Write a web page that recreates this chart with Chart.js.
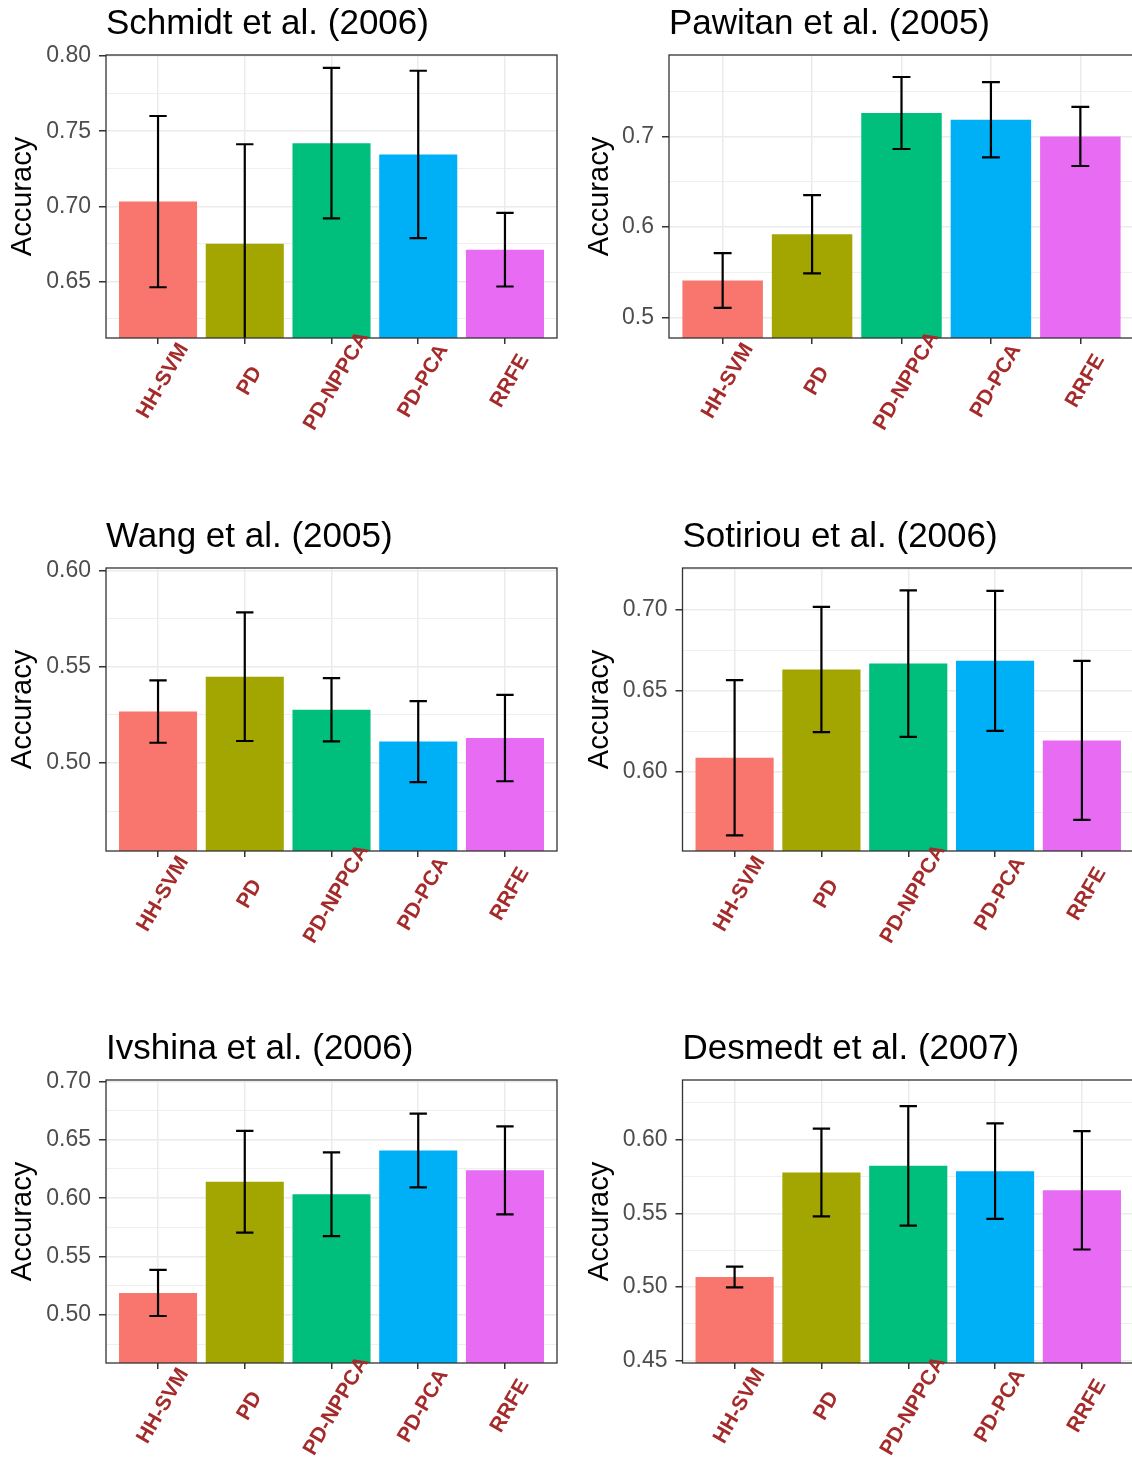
<!DOCTYPE html>
<html lang="en">
<head>
  <meta charset="UTF-8">
  <title>Accuracy by method</title>
  <script src="https://cdn.jsdelivr.net/npm/chart.js"></script>
  <style>
    html, body {
      margin: 0;
      padding: 0;
      background: #fff;
      overflow: hidden;
      width: 1132px;
      height: 1458px;
    }
    .panel {
      position: absolute;
      width: 566px;
      height: 450px;
    }
  </style>
</head>
<body>
  <div class="panel" style="left:0;top:0"><canvas id="c1" width="566" height="450"></canvas></div>
  <div class="panel" style="left:577px;top:0"><canvas id="c2" width="566" height="450"></canvas></div>
  <div class="panel" style="left:0;top:513px"><canvas id="c3" width="566" height="450"></canvas></div>
  <div class="panel" style="left:577px;top:513px"><canvas id="c4" width="566" height="450"></canvas></div>
  <div class="panel" style="left:0;top:1025px"><canvas id="c5" width="566" height="450"></canvas></div>
  <div class="panel" style="left:577px;top:1025px"><canvas id="c6" width="566" height="450"></canvas></div>

  <script>
    // methods and fill colours (ggplot hue palette)
    const categories = ['HH-SVM', 'PD', 'PD-NPPCA', 'PD-PCA', 'RRFE'];
    const barColors = ['#F8766D', '#A3A500', '#00BF7D', '#00B0F6', '#E76BF3'];

    // mean accuracy and error bar half-width
    const schmidtMean = [0.7031, 0.6751, 0.7420, 0.7345, 0.6711];
    const schmidtErr  = [0.0570, 0.0662, 0.0501, 0.0557, 0.0245];
    const schmidtTicks = ['0.65', '0.70', '0.75', '0.80'];

    const pawitanMean = [0.5407, 0.5919, 0.7259, 0.7185, 0.7000];
    const pawitanErr  = [0.0303, 0.0433, 0.0398, 0.0416, 0.0327];
    const pawitanTicks = ['0.5', '0.6', '0.7'];

    const wangMean = [0.5267, 0.5448, 0.5276, 0.5111, 0.5129];
    const wangErr  = [0.0162, 0.0334, 0.0164, 0.0210, 0.0224];
    const wangTicks = ['0.50', '0.55', '0.60'];

    const sotiriouMean = [0.6087, 0.6632, 0.6669, 0.6686, 0.6194];
    const sotiriouErr  = [0.0480, 0.0387, 0.0453, 0.0433, 0.0492];
    const sotiriouTicks = ['0.60', '0.65', '0.70'];

    const ivshinaMean = [0.5189, 0.6140, 0.6034, 0.6408, 0.6238];
    const ivshinaErr  = [0.0197, 0.0435, 0.0358, 0.0316, 0.0376];
    const ivshinaTicks = ['0.50', '0.55', '0.60', '0.65', '0.70'];

    const desmedtMean = [0.5068, 0.5778, 0.5823, 0.5787, 0.5657];
    const desmedtErr  = [0.0070, 0.0298, 0.0406, 0.0324, 0.0402];
    const desmedtTicks = ['0.45', '0.50', '0.55', '0.60'];

    const panels = [
      { id: 'c1', title: 'Schmidt et al. (2006)',  mean: schmidtMean,  err: schmidtErr,  ticks: schmidtTicks,  min: 0.6123, max: 0.8007, yw: 106 },
      { id: 'c2', title: 'Pawitan et al. (2005)',  mean: pawitanMean,  err: pawitanErr,  ticks: pawitanTicks,  min: 0.4772, max: 0.7900, yw: 92 },
      { id: 'c3', title: 'Wang et al. (2005)',     mean: wangMean,     err: wangErr,     ticks: wangTicks,     min: 0.4543, max: 0.6012, yw: 106 },
      { id: 'c4', title: 'Sotiriou et al. (2006)', mean: sotiriouMean, err: sotiriouErr, ticks: sotiriouTicks, min: 0.5510, max: 0.7260, yw: 105.5 },
      { id: 'c5', title: 'Ivshina et al. (2006)',  mean: ivshinaMean,  err: ivshinaErr,  ticks: ivshinaTicks,  min: 0.4590, max: 0.7011, yw: 106 },
      { id: 'c6', title: 'Desmedt et al. (2007)',  mean: desmedtMean,  err: desmedtErr,  ticks: desmedtTicks,  min: 0.4484, max: 0.6406, yw: 105.5 }
    ];

    Chart.defaults.font.family = "'Liberation Sans', Arial, sans-serif";

    // error bars with caps, width 0.2 of a category
    const errorBars = {
      id: 'errorBars',
      afterDatasetsDraw(chart, args, opts) {
        const { ctx, chartArea: a } = chart;
        const xs = chart.scales.x, ys = chart.scales.y;
        const half = xs.getPixelForValue(1.1) - xs.getPixelForValue(1);
        ctx.save();
        ctx.beginPath();
        ctx.rect(a.left, a.top, a.right - a.left, a.bottom - a.top);
        ctx.clip();
        ctx.strokeStyle = '#000';
        ctx.lineWidth = 2.2;
        opts.mean.forEach((m, i) => {
          const x = xs.getPixelForValue(i + 1);
          const yHi = ys.getPixelForValue(m + opts.err[i]);
          const yLo = ys.getPixelForValue(m - opts.err[i]);
          ctx.beginPath();
          ctx.moveTo(x, yHi); ctx.lineTo(x, yLo);
          ctx.moveTo(x - half, yHi); ctx.lineTo(x + half, yHi);
          ctx.moveTo(x - half, yLo); ctx.lineTo(x + half, yLo);
          ctx.stroke();
        });
        ctx.restore();
      }
    };

    // panel border and rotated method labels
    const panelFrame = {
      id: 'panelFrame',
      afterDraw(chart) {
        const { ctx, chartArea: a } = chart;
        const xs = chart.scales.x;
        ctx.save();
        ctx.strokeStyle = '#333';
        ctx.lineWidth = 1.3;
        ctx.strokeRect(a.left, a.top, a.right - a.left, a.bottom - a.top);
        ctx.fillStyle = '#a52a2a';
        ctx.font = "bold 21px 'Liberation Sans', Arial, sans-serif";
        ctx.textAlign = 'center';
        ctx.textBaseline = 'middle';
        categories.forEach((c, i) => {
          ctx.save();
          ctx.translate(xs.getPixelForValue(i + 1) + 5, a.bottom + 43);
          ctx.rotate(-Math.PI / 3);
          ctx.fillText(c, 0, 0);
          ctx.restore();
        });
        ctx.restore();
      }
    };

    panels.forEach(p => {
      const major = p.ticks.map(Number);
      const step = major[1] - major[0];
      const gridVals = [];
      major.forEach(v => gridVals.push(v));
      [major[0] - step / 2].concat(major.map(v => v + step / 2)).forEach(v => gridVals.push(v));
      const yVals = gridVals.filter(v => v >= p.min - 1e-9 && v <= p.max + 1e-9).sort((a, b) => a - b);
      const labelOf = v => {
        const k = major.findIndex(t => Math.abs(t - v) < 1e-6);
        return k >= 0 ? p.ticks[k] : '';
      };
      const isMajor = v => labelOf(v) !== '';

      new Chart(document.getElementById(p.id), {
        type: 'bar',
        data: {
          datasets: [{
            data: p.mean.map((v, i) => ({ x: i + 1, y: v })),
            backgroundColor: barColors,
            borderWidth: 0,
            barPercentage: 0.9,
            categoryPercentage: 1.0
          }]
        },
        options: {
          responsive: false,
          animation: false,
          devicePixelRatio: 1,
          layout: { padding: { left: 0, right: 9, top: 0, bottom: 0 } },
          plugins: {
            legend: { display: false },
            tooltip: { enabled: false },
            title: {
              display: true,
              text: p.title,
              align: 'start',
              fullSize: false,
              color: '#000',
              font: { size: 35, weight: 'normal' },
              padding: { top: 3, bottom: 10 }
            },
            errorBars: { mean: p.mean, err: p.err }
          },
          scales: {
            x: {
              type: 'linear',
              min: 0.4,
              max: 5.6,
              offset: false,
              afterBuildTicks: s => { s.ticks = categories.map((c, i) => ({ value: i + 1 })); },
              afterFit: s => { s.height = 112; },
              ticks: { display: false },
              border: { display: false },
              grid: {
                offset: false,
                color: '#ebebeb',
                lineWidth: 1.5,
                tickColor: '#333',
                tickLength: 6,
                tickWidth: 1.5
              }
            },
            y: {
              type: 'linear',
              min: p.min,
              max: p.max,
              afterBuildTicks: s => { s.ticks = yVals.map(v => ({ value: v })); },
              afterFit: s => { s.width = p.yw; },
              border: { display: false },
              title: {
                display: true,
                text: 'Accuracy',
                color: '#000',
                font: { size: 29 },
                padding: { top: 6, bottom: 0 }
              },
              ticks: {
                color: '#4d4d4d',
                font: { size: 23 },
                padding: 8,
                autoSkip: false,
                callback: v => labelOf(v)
              },
              grid: {
                color: '#ebebeb',
                lineWidth: c => isMajor(c.tick.value) ? 1.5 : 0.8,
                tickColor: c => isMajor(c.tick.value) ? '#333' : 'rgba(0,0,0,0)',
                tickLength: 7,
                tickWidth: 1.5
              }
            }
          }
        },
        plugins: [errorBars, panelFrame]
      });
    });
  </script>
</body>
</html>
